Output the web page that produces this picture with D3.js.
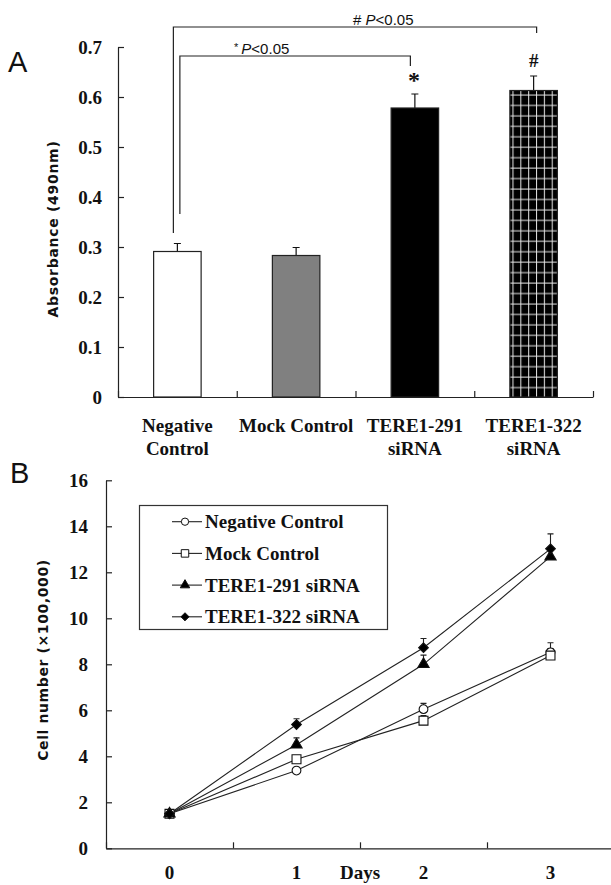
<!DOCTYPE html>
<html>
<head>
<meta charset="utf-8">
<script src="https://cdn.jsdelivr.net/npm/d3@7"></script>
<style>
  body { margin: 0; background: #fff; }
  svg { display: block; }
  .serif { font-family: "Liberation Serif", "Times New Roman", serif; font-weight: bold; fill: #111; }
  .sans { font-family: "Liberation Sans", Arial, sans-serif; fill: #111; }
  .axis path, .axis line { stroke: #222; stroke-width: 1.2; }
</style>
</head>
<body>
<div id="chart"></div>
<script>
// ---- panel A data ----
var categories = ["Negative Control", "Mock Control", "TERE1-291 siRNA", "TERE1-322 siRNA"];
var catLabels = [["Negative", "Control"], ["Mock Control"], ["TERE1-291", "siRNA"], ["TERE1-322", "siRNA"]];
var absorbance = [0.291, 0.283, 0.578, 0.613];
var absErr = [0.016, 0.016, 0.028, 0.029];
var absTicks = [0, 0.1, 0.2, 0.3, 0.4, 0.5, 0.6, 0.7];

// ---- panel B data ----
var days = [0, 1, 2, 3];
var seriesNames = ["Negative Control", "Mock Control", "TERE1-291 siRNA", "TERE1-322 siRNA"];
var negCtrl = [1.5, 3.38, 6.05, 8.52];
var negErr = [0.08, 0.1, 0.25, 0.42];
var mockCtrl = [1.5, 3.87, 5.55, 8.38];
var mockErr = [0.08, 0.1, 0.22, 0.3];
var tere291 = [1.5, 4.5, 8.0, 12.68];
var tere291Err = [0.08, 0.3, 0.4, 0.3];
var tere322 = [1.5, 5.38, 8.72, 13.02];
var tere322Err = [0.08, 0.25, 0.4, 0.65];
var cellTicks = [0, 2, 4, 6, 8, 10, 12, 14, 16];

var svg = d3.select("#chart").append("svg")
	.attr("width", 611)
	.attr("height", 885);

svg.append("rect").attr("width", 611).attr("height", 885).attr("fill", "#fff");

// grid pattern for last bar
var defs = svg.append("defs");
var pat = defs.append("pattern")
	.attr("id", "grid")
	.attr("patternUnits", "userSpaceOnUse")
	.attr("x", 509.5).attr("y", 93)
	.attr("width", 7.85).attr("height", 10.45);
pat.append("rect").attr("width", 7.85).attr("height", 10.45).attr("fill", "#000");
pat.append("line").attr("x1", 3.5).attr("x2", 3.5).attr("y1", 0).attr("y2", 10.45)
	.attr("stroke", "#e8e8e8").attr("stroke-width", 1);
pat.append("line").attr("x1", 0).attr("x2", 7.85).attr("y1", 2).attr("y2", 2)
	.attr("stroke", "#e8e8e8").attr("stroke-width", 1);

//==================== panel A ====================
var xA = d3.scaleBand()
	.domain(categories)
	.range([118, 593])
	.paddingInner(0.6)
	.paddingOuter(0.3);

var yA = d3.scaleLinear()
	.domain([0, 0.7])
	.range([397, 47]);

var gA = svg.append("g");

gA.append("text")
	.attr("class", "sans")
	.attr("x", 8).attr("y", 72)
	.style("font-size", "29px")
	.text("A");

// y axis
var yAxisA = d3.axisLeft(yA)
	.tickValues(absTicks)
	.tickSize(-6)
	.tickSizeOuter(0)
	.tickPadding(16)
	.tickFormat(function(d){ return d === 0 ? "0" : d.toFixed(1); });

gA.append("g")
	.attr("class", "axis")
	.attr("transform", "translate(118,0)")
	.call(yAxisA)
	.selectAll("text")
	.attr("class", "serif")
	.style("font-size", "19px");

// x axis (ticks on category boundaries)
var boundA = d3.scaleLinear().domain([0, categories.length]).range(xA.range());
gA.append("g")
	.attr("class", "axis")
	.attr("transform", "translate(0,397)")
	.call(d3.axisBottom(boundA).ticks(categories.length).tickSize(-6).tickSizeOuter(0).tickFormat(""));

// category labels
categories.forEach(function(c, i){
	var t = gA.append("text")
		.attr("class", "serif")
		.attr("text-anchor", "middle")
		.style("font-size", "19px")
		.attr("x", xA(c) + xA.bandwidth() / 2)
		.attr("y", 432);
	catLabels[i].forEach(function(line, j){
		t.append("tspan")
			.attr("x", xA(c) + xA.bandwidth() / 2)
			.attr("dy", j === 0 ? 0 : 23)
			.text(line);
	});
});

gA.append("text")
	.attr("class", "sans")
	.attr("transform", "translate(58,229) rotate(-90)")
	.attr("text-anchor", "middle")
	.style("font-family", "'DejaVu Sans', sans-serif")
	.style("font-weight", "bold")
	.style("font-size", "14px")
	.style("letter-spacing", "0.7px")
	.text("Absorbance (490nm)");

// bars
var barFill = ["#fff", "#808080", "#000", "url(#grid)"];
gA.selectAll(".errA")
	.data(absorbance)
	.enter()
	.append("path")
	.attr("class", "errA")
	.attr("fill", "none")
	.attr("stroke", "#111")
	.attr("stroke-width", 1.2)
	.attr("d", function(d, i){
		var cx = xA(categories[i]) + xA.bandwidth() / 2;
		var top = yA(d + absErr[i]);
		return "M" + cx + "," + yA(d) + "V" + top + "M" + (cx - 3.5) + "," + top + "H" + (cx + 3.5);
	});

gA.selectAll(".bar")
	.data(absorbance)
	.enter()
	.append("rect")
	.attr("class", "bar")
	.attr("x", function(d, i){ return xA(categories[i]); })
	.attr("y", function(d){ return yA(d); })
	.attr("width", xA.bandwidth())
	.attr("height", function(d){ return yA(0) - yA(d); })
	.attr("fill", function(d, i){ return barFill[i]; })
	.attr("stroke", "#222")
	.attr("stroke-width", 1.2);

// significance brackets
function cx(i){ return xA(categories[i]) + xA.bandwidth() / 2; }

gA.append("path")
	.attr("fill", "none").attr("stroke", "#222").attr("stroke-width", 1.2)
	.attr("d", "M" + (cx(0) - 4) + "," + yA(0.328) + "V" + yA(0.74) + "H" + (cx(3) + 3) + "V" + yA(0.728));
gA.append("path")
	.attr("fill", "none").attr("stroke", "#222").attr("stroke-width", 1.2)
	.attr("d", "M" + (cx(0) + 2.5) + "," + yA(0.366) + "V" + yA(0.682) + "H" + (cx(2) - 4.5) + "V" + yA(0.662));

var t1 = gA.append("text")
	.attr("class", "sans")
	.attr("x", 353).attr("y", 25)
	.style("font-size", "15px");
t1.append("tspan").text("# ");
t1.append("tspan").style("font-style", "italic").text("P");
t1.append("tspan").text("<0.05");

var t2 = gA.append("text")
	.attr("class", "sans")
	.attr("x", 234).attr("y", 54)
	.style("font-size", "15px");
t2.append("tspan").style("font-size", "11px").attr("dy", -3).text("* ");
t2.append("tspan").attr("dy", 3).style("font-style", "italic").text("P");
t2.append("tspan").text("<0.05");

gA.append("text")
	.attr("class", "serif")
	.attr("text-anchor", "middle")
	.attr("x", cx(2) - 1).attr("y", 88)
	.style("font-size", "24px")
	.text("*");
gA.append("text")
	.attr("class", "serif")
	.attr("text-anchor", "middle")
	.attr("x", cx(3)).attr("y", 67)
	.style("font-size", "19px")
	.text("#");

//==================== panel B ====================
var xB = d3.scalePoint()
	.domain(days)
	.range([106, 614])
	.padding(0.5);

var yB = d3.scaleLinear()
	.domain([0, 16])
	.range([848.3, 480.3]);

var gB = svg.append("g");

gB.append("text")
	.attr("class", "sans")
	.attr("x", 10).attr("y", 483)
	.style("font-size", "29px")
	.text("B");

gB.append("g")
	.attr("class", "axis")
	.attr("transform", "translate(106,0)")
	.call(d3.axisLeft(yB).tickValues(cellTicks).tickSize(-6).tickSizeOuter(0).tickPadding(18))
	.selectAll("text")
	.attr("class", "serif")
	.style("font-size", "19px");

var boundB = d3.scaleLinear().domain([0, days.length]).range([106, 614]);
gB.append("g")
	.attr("class", "axis")
	.attr("transform", "translate(0,848.3)")
	.call(d3.axisBottom(boundB).ticks(days.length).tickSize(-6).tickSizeOuter(0).tickFormat(""));

gB.selectAll(".dayLabel")
	.data(days)
	.enter()
	.append("text")
	.attr("class", "serif dayLabel")
	.attr("text-anchor", "middle")
	.style("font-size", "19px")
	.attr("x", function(d){ return xB(d); })
	.attr("y", 879)
	.text(function(d){ return d; });

gB.append("text")
	.attr("class", "serif")
	.attr("text-anchor", "middle")
	.style("font-size", "19px")
	.attr("x", boundB(2)).attr("y", 879)
	.text("Days");

gB.append("text")
	.attr("class", "sans")
	.attr("transform", "translate(48,660) rotate(-90)")
	.attr("text-anchor", "middle")
	.style("font-family", "'DejaVu Sans', sans-serif")
	.style("font-weight", "bold")
	.style("font-size", "14px")
	.style("letter-spacing", "0.6px")
	.text("Cell number (\u00d7100,000)");

var series = [
	{name: seriesNames[0], values: negCtrl, err: negErr, symbol: d3.symbolCircle, size: 60, fill: "#fff"},
	{name: seriesNames[1], values: mockCtrl, err: mockErr, symbol: d3.symbolSquare, size: 80, fill: "#fff"},
	{name: seriesNames[2], values: tere291, err: tere291Err, symbol: d3.symbolTriangle, size: 55, fill: "#000"},
	{name: seriesNames[3], values: tere322, err: tere322Err, symbol: d3.symbolDiamond2, size: 60, fill: "#000"}
];

var lineGenerator = d3.line()
	.x(function(d, i){ return xB(days[i]); })
	.y(function(d){ return yB(d); });

series.forEach(function(s){
	gB.append("path")
		.attr("fill", "none")
		.attr("stroke", "#222")
		.attr("stroke-width", 1.1)
		.attr("d", lineGenerator(s.values));
});

series.forEach(function(s){
	gB.selectAll(null)
		.data(s.values)
		.enter()
		.append("path")
		.attr("fill", "none")
		.attr("stroke", "#222")
		.attr("stroke-width", 1.1)
		.attr("d", function(d, i){
			var x = xB(days[i]);
			var top = yB(d + s.err[i]);
			return "M" + x + "," + yB(d) + "V" + top + "M" + (x - 3) + "," + top + "H" + (x + 3);
		});
});

series.forEach(function(s){
	gB.selectAll(null)
		.data(s.values)
		.enter()
		.append("path")
		.attr("transform", function(d, i){ return "translate(" + xB(days[i]) + "," + yB(d) + ")"; })
		.attr("d", d3.symbol().type(s.symbol).size(s.size))
		.attr("fill", s.fill)
		.attr("stroke", "#111")
		.attr("stroke-width", 1.1);
});

// legend
var legend = gB.append("g");
legend.append("rect")
	.attr("x", 139.5).attr("y", 505.5)
	.attr("width", 248).attr("height", 124)
	.attr("fill", "#fff")
	.attr("stroke", "#333")
	.attr("stroke-width", 1.2);

series.forEach(function(s, i){
	var ly = 521.7 + i * 31.7;
	legend.append("line")
		.attr("x1", 172).attr("x2", 202)
		.attr("y1", ly).attr("y2", ly)
		.attr("stroke", "#222").attr("stroke-width", 1.1);
	legend.append("path")
		.attr("transform", "translate(185," + ly + ")")
		.attr("d", d3.symbol().type(s.symbol).size(s.size * 0.7))
		.attr("fill", s.fill)
		.attr("stroke", "#111")
		.attr("stroke-width", 1);
	legend.append("text")
		.attr("class", "serif")
		.attr("x", 205).attr("y", ly + 6.5)
		.style("font-size", "19px")
		.text(s.name);
});
</script>
</body>
</html>
